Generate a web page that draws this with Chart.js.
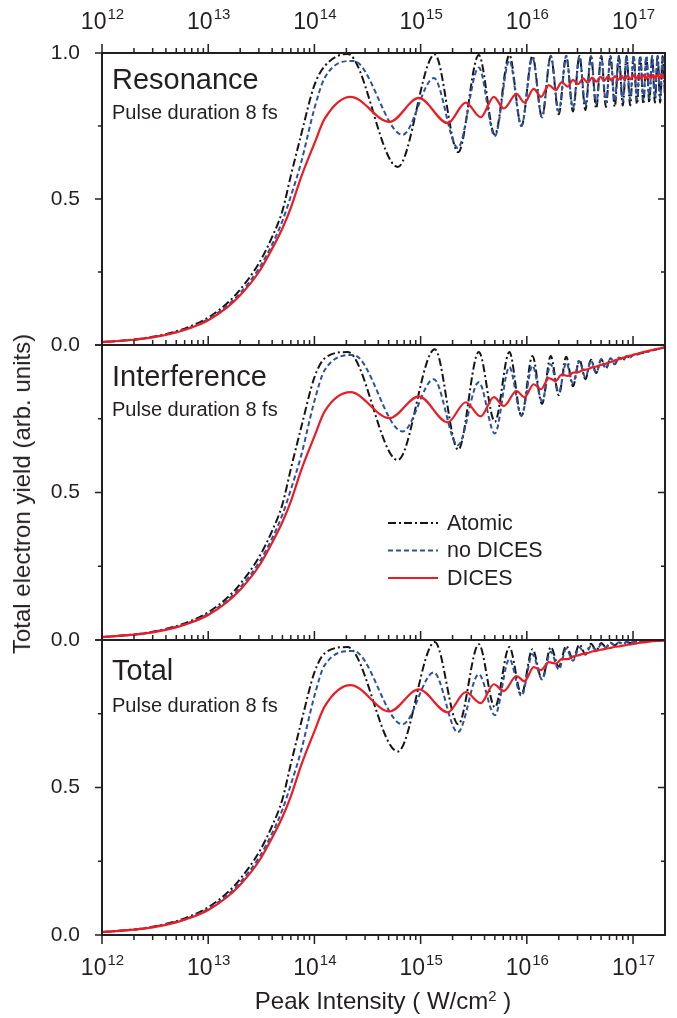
<!DOCTYPE html>
<html>
<head>
<meta charset="utf-8">
<script src="https://cdn.jsdelivr.net/npm/chart.js@4.4.0/dist/chart.umd.min.js"></script>
<style>
  html, body { margin: 0; padding: 0; background: #fff; }
  #fig { position: relative; width: 677px; height: 1018px; overflow: hidden;
         font-family: 'Liberation Sans', Arial, sans-serif; color: #231f20; }
  #fig canvas { position: absolute; left: 0; top: 0; }
  .lbl { position: absolute; white-space: nowrap; line-height: 1; }
  .name { font-size: 29px; }
  .pulse { font-size: 20px; }
  #ytitle { position: absolute; left: 22px; top: 494px; font-size: 24px; line-height: 1;
            white-space: nowrap; transform: translate(-50%, -50%) rotate(-90deg); }
  #xtitle { position: absolute; left: 383px; top: 989px; font-size: 24px; line-height: 1;
            white-space: nowrap; transform: translateX(-50%); }
  sup { font-size: 0.62em; vertical-align: 0.55em; line-height: 0; }
</style>
</head>
<body>
<div id="fig">
  <canvas id="panelRes" width="677" height="1018"></canvas>
  <canvas id="panelInt" width="677" height="1018"></canvas>
  <canvas id="panelTot" width="677" height="1018"></canvas>

  <div class="lbl name" style="left:112px; top:65px">Resonance</div>
  <div class="lbl pulse" style="left:112px; top:102px">Pulse duration 8 fs</div>
  <div class="lbl name" style="left:112px; top:362px">Interference</div>
  <div class="lbl pulse" style="left:112px; top:399px">Pulse duration 8 fs</div>
  <div class="lbl name" style="left:112px; top:656px">Total</div>
  <div class="lbl pulse" style="left:112px; top:695px">Pulse duration 8 fs</div>

  <div id="ytitle">Total electron yield (arb. units)</div>
  <div id="xtitle">Peak Intensity ( W/cm<sup>2</sup> )</div>
</div>

<script>
// intensity axis (W/cm^2) and yields, low-intensity rise is the same in all panels
const riseI = [1e12, 2e12, 3e12, 5e12, 7e12, 1e13, 1.5e13, 2e13, 3e13, 4e13, 5e13, 6e13, 7.5e13, 1e14, 1.25e14];
const riseAtomic  = [0.010, 0.019, 0.028, 0.047, 0.066, 0.094, 0.142, 0.190, 0.280, 0.370, 0.460, 0.580, 0.720, 0.890, 0.955];
const riseNoDices = [0.010, 0.018, 0.027, 0.045, 0.062, 0.089, 0.134, 0.178, 0.262, 0.345, 0.425, 0.510, 0.625, 0.810, 0.915];
const riseDices   = [0.010, 0.018, 0.026, 0.043, 0.060, 0.085, 0.128, 0.170, 0.250, 0.330, 0.400, 0.470, 0.575, 0.690, 0.775];

// maxima / minima of the Rabi-like oscillations
const atomicI = [2.05e14, 6.1e14, 1.36e15, 2.26e15, 3.53e15, 5.0e15, 6.85e15, 8.9e15, 1.13e16, 1.39e16,
  1.68e16, 2.0e16, 2.35e16, 2.72e16, 3.13e16, 3.56e16, 4.02e16, 4.5e16, 5.02e16, 5.56e16,
  6.13e16, 6.73e16, 7.35e16, 8.01e16, 8.69e16, 9.4e16, 1.013e17, 1.09e17, 1.169e17, 1.251e17,
  1.336e17, 1.423e17, 1.514e17, 1.607e17, 1.703e17, 1.801e17, 1.903e17, 2.007e17];
const noDicesI = [2.33e14, 6.76e14, 1.33e15, 2.24e15, 3.53e15, 5.0e15, 6.85e15, 8.9e15, 1.13e16, 1.39e16,
  1.68e16, 2.0e16, 2.35e16, 2.72e16, 3.13e16, 3.56e16, 4.02e16, 4.5e16, 5.02e16, 5.56e16,
  6.13e16, 6.73e16, 7.35e16, 8.01e16, 8.69e16, 9.4e16, 1.013e17, 1.09e17, 1.169e17, 1.251e17,
  1.336e17, 1.423e17, 1.514e17, 1.607e17, 1.703e17, 1.801e17, 1.903e17, 2.007e17];
const dicesI = [2.19e14, 5.1e14, 9.6e14, 1.8e15, 2.66e15, 3.68e15, 4.89e15, 6.07e15, 8.0e15, 9.5e15,
  1.16e16, 1.36e16, 1.61e16, 1.87e16, 2.13e16, 2.42e16, 2.72e16, 3.05e16, 3.39e16, 3.75e16,
  4.12e16, 4.52e16, 4.93e16, 5.36e16, 5.81e16, 6.28e16, 6.76e16, 7.27e16, 7.79e16, 8.33e16,
  8.88e16, 9.46e16, 1.005e17, 1.066e17, 1.129e17, 1.194e17, 1.261e17, 1.329e17, 1.399e17, 1.471e17,
  1.545e17, 1.62e17, 1.698e17, 1.777e17, 1.858e17, 1.941e17, 2.0e17];

// Resonance
const resAtomic = [0.997, 0.61, 0.995, 0.66, 0.993, 0.72, 0.993, 0.75, 0.99, 0.78, 0.99, 0.79, 0.99, 0.80,
  0.99, 0.805, 0.99, 0.81, 0.99, 0.815, 0.99, 0.815, 0.99, 0.82, 0.99, 0.82, 0.99, 0.825, 0.99, 0.825,
  0.99, 0.83, 0.99, 0.83, 0.99, 0.83, 0.99, 0.835];
const resNoDices = [0.973, 0.72, 0.914, 0.675, 0.95, 0.715, 0.975, 0.75, 0.985, 0.78, 0.99, 0.80, 0.99, 0.81,
  0.99, 0.82, 0.99, 0.825, 0.99, 0.83, 0.99, 0.835, 0.99, 0.835, 0.99, 0.84, 0.99, 0.84, 0.99, 0.84,
  0.99, 0.845, 0.99, 0.845, 0.99, 0.845, 0.99, 0.85];
const resDices = [0.85, 0.764, 0.846, 0.76, 0.83, 0.78, 0.85, 0.81, 0.86, 0.83, 0.877, 0.85, 0.89, 0.873,
  0.90, 0.885, 0.908, 0.893, 0.913, 0.898, 0.916, 0.902, 0.918, 0.905, 0.92, 0.906, 0.921, 0.908,
  0.922, 0.909, 0.923, 0.91, 0.924, 0.911, 0.924, 0.912, 0.925, 0.912, 0.925, 0.913, 0.925, 0.913,
  0.926, 0.914, 0.926, 0.914, 0.92];

// Interference
const intAtomic = [0.976, 0.61, 0.986, 0.645, 0.976, 0.74, 0.976, 0.76, 0.963, 0.80, 0.963, 0.83, 0.96, 0.86,
  0.95, 0.884, 0.95, 0.905, 0.952, 0.92, 0.955, 0.935, 0.958, 0.948, 0.962, 0.958, 0.967, 0.968, 0.972, 0.974,
  0.977, 0.979, 0.982, 0.984, 0.986, 0.988, 0.99, 0.992];
const intNoDices = [0.966, 0.707, 0.884, 0.66, 0.874, 0.70, 0.925, 0.76, 0.93, 0.81, 0.935, 0.84, 0.94, 0.87,
  0.945, 0.89, 0.948, 0.905, 0.952, 0.92, 0.955, 0.935, 0.958, 0.948, 0.962, 0.958, 0.967, 0.968, 0.972, 0.974,
  0.977, 0.979, 0.982, 0.984, 0.986, 0.988, 0.99, 0.992];
const intDices = [0.84, 0.752, 0.826, 0.738, 0.806, 0.758, 0.823, 0.793, 0.844, 0.823, 0.867, 0.85, 0.888, 0.878,
  0.90, 0.895, 0.906, 0.908, 0.915, 0.918, 0.924, 0.927, 0.932, 0.935, 0.94, 0.943, 0.948, 0.951, 0.955, 0.958,
  0.962, 0.964, 0.967, 0.969, 0.972, 0.974, 0.977, 0.978, 0.98, 0.982, 0.984, 0.985, 0.987, 0.988, 0.99, 0.991, 0.992];

// Total
const totAtomic = [0.976, 0.622, 0.993, 0.714, 0.986, 0.772, 0.976, 0.816, 0.969, 0.867, 0.976, 0.91, 0.98, 0.935,
  0.985, 0.952, 0.987, 0.965, 0.99, 0.975, 0.991, 0.982, 0.992, 0.987, 0.993, 0.99, 0.994, 0.993, 0.995, 0.995,
  0.996, 0.996, 0.997, 0.997, 0.998, 0.998, 0.999, 0.999];
const totNoDices = [0.963, 0.714, 0.89, 0.687, 0.884, 0.745, 0.935, 0.81, 0.952, 0.867, 0.96, 0.90, 0.97, 0.93,
  0.975, 0.95, 0.98, 0.965, 0.985, 0.975, 0.991, 0.982, 0.992, 0.987, 0.993, 0.99, 0.994, 0.993, 0.995, 0.995,
  0.996, 0.996, 0.997, 0.997, 0.998, 0.998, 0.999, 0.999];
const totDices = [0.847, 0.758, 0.833, 0.755, 0.823, 0.786, 0.85, 0.827, 0.878, 0.86, 0.908, 0.898, 0.925, 0.92,
  0.935, 0.935, 0.944, 0.948, 0.953, 0.956, 0.961, 0.963, 0.967, 0.969, 0.972, 0.974, 0.977, 0.978, 0.98, 0.982,
  0.984, 0.985, 0.987, 0.988, 0.99, 0.991, 0.992, 0.993, 0.994, 0.995, 0.996, 0.996, 0.997, 0.997, 0.998, 0.998, 0.999];

// axis labels
const decadeExp = [12, 13, 14, 15, 16, 17];
const yLabelValues = [0, 0.5, 1];
const yLabelText = ['0.0', '0.5', '1.0'];
const seriesNames = ['Atomic', 'no DICES', 'DICES'];

const ink = '#231f20';
const font = '"Liberation Sans", Arial, sans-serif';

function pts(xs, ys) {
  return xs.map((x, i) => ({ x: x, y: ys[i] }));
}

function makeSets(atomic, noDices, dices) {
  const base = { borderWidth: 2, pointRadius: 0, fill: false, cubicInterpolationMode: 'monotone' };
  return [
    Object.assign({}, base, { label: seriesNames[0], order: 2, borderColor: '#161616', borderDash: [8, 3, 2, 3],
      data: pts(riseI, riseAtomic).concat(pts(atomicI, atomic)) }),
    Object.assign({}, base, { label: seriesNames[1], order: 1, borderColor: '#2e52a2', borderDash: [5, 3],
      data: pts(riseI, riseNoDices).concat(pts(noDicesI, noDices)) }),
    Object.assign({}, base, { label: seriesNames[2], order: 0, borderColor: '#ec1c24', borderWidth: 2.2,
      data: pts(riseI, riseDices).concat(pts(dicesI, dices)) })
  ];
}

function isDecade(v) {
  const m = v / Math.pow(10, Math.floor(Math.log10(v) + 1e-9));
  return Math.abs(m - 1) < 1e-6;
}

function drawDecades(ctx, x, baseline) {
  ctx.fillStyle = ink;
  ctx.textAlign = 'left';
  ctx.textBaseline = 'alphabetic';
  decadeExp.forEach(e => {
    const px = x.getPixelForValue(Math.pow(10, e));
    ctx.font = '23px ' + font;
    const w1 = ctx.measureText('10').width;
    ctx.font = '15px ' + font;
    const w2 = ctx.measureText(String(e)).width;
    const x0 = px - (w1 + w2) / 2;
    ctx.font = '23px ' + font;
    ctx.fillText('10', x0, baseline);
    ctx.font = '15px ' + font;
    ctx.fillText(String(e), x0 + w1 + 1, baseline - 10);
  });
}

// frame, tick marks on all sides, decade labels and the legend
const panelFrame = {
  id: 'panelFrame',
  afterDraw(chart, args, opts) {
    const { ctx, chartArea: a } = chart;
    const x = chart.scales.x, y = chart.scales.y;
    ctx.save();
    ctx.strokeStyle = ink;
    ctx.lineWidth = 2;
    ctx.strokeRect(a.left, a.top, a.right - a.left, a.bottom - a.top);

    ctx.lineWidth = 1.5;
    ctx.beginPath();
    x.ticks.forEach(t => {
      const px = x.getPixelForValue(t.value);
      const len = isDecade(t.value) ? 9 : 5;
      ctx.moveTo(px, a.top);
      ctx.lineTo(px, a.top - len);
      if (opts.bottomTicks) {
        ctx.moveTo(px, a.bottom);
        ctx.lineTo(px, a.bottom + len);
      }
    });
    y.ticks.forEach(t => {
      const py = y.getPixelForValue(t.value);
      const len = t.value % 0.5 === 0 ? 7 : 4;
      ctx.moveTo(a.left - len, py);
      ctx.lineTo(a.left, py);
      ctx.moveTo(a.right, py);
      ctx.lineTo(a.right - len, py);
    });
    ctx.stroke();

    if (opts.topLabels) drawDecades(ctx, x, 29);
    if (opts.bottomLabels) drawDecades(ctx, x, a.bottom + 40);

    if (opts.legend) {
      const lg = opts.legend;
      chart.data.datasets.forEach((ds, i) => {
        const ly = lg.y + i * lg.gap;
        ctx.beginPath();
        ctx.strokeStyle = ds.borderColor;
        ctx.lineWidth = ds.borderWidth;
        ctx.setLineDash(ds.borderDash || []);
        ctx.moveTo(lg.x, ly);
        ctx.lineTo(lg.x + lg.len, ly);
        ctx.stroke();
        ctx.setLineDash([]);
        ctx.fillStyle = ink;
        ctx.font = '21.5px ' + font;
        ctx.textBaseline = 'middle';
        ctx.fillText(ds.label, lg.x + lg.len + 9, ly + 1);
      });
    }
    ctx.restore();
  }
};

function makePanel(id, top, bottom, sets, showOne, opts) {
  return new Chart(document.getElementById(id), {
    type: 'line',
    data: { datasets: sets },
    options: {
      responsive: false,
      animation: false,
      events: [],
      layout: { padding: { left: 0, right: 12, top: top, bottom: 1018 - bottom } },
      scales: {
        x: {
          type: 'logarithmic', min: 1e12, max: 2e17,
          ticks: { display: false },
          grid: { display: false },
          border: { display: false },
          afterBuildTicks: s => {
            s.ticks = s.ticks.filter(t => {
              const m = t.value / Math.pow(10, Math.floor(Math.log10(t.value) + 1e-9));
              return Math.abs(m - Math.round(m)) < 1e-6 && t.value < 1.99e17;
            });
          },
          afterFit: s => { s.height = 0; }
        },
        y: {
          min: 0, max: 1,
          ticks: {
            stepSize: 0.25, padding: 22, color: ink,
            font: { family: font, size: 21 },
            callback: v => {
              const i = yLabelValues.indexOf(v);
              if (i < 0 || (v === 1 && !showOne)) return '';
              return yLabelText[i];
            }
          },
          grid: { drawOnChartArea: false, drawTicks: false },
          border: { display: false },
          afterFit: s => { s.width = 102; }
        }
      },
      plugins: { legend: { display: false }, tooltip: { enabled: false }, panelFrame: opts }
    },
    plugins: [panelFrame]
  });
}

makePanel('panelRes', 53, 345, makeSets(resAtomic, resNoDices, resDices), true, { topLabels: true });
makePanel('panelInt', 345, 640, makeSets(intAtomic, intNoDices, intDices), false,
  { legend: { x: 388, y: 523, gap: 27.5, len: 50 } });
makePanel('panelTot', 640, 935, makeSets(totAtomic, totNoDices, totDices), false,
  { bottomTicks: true, bottomLabels: true });
</script>
</body>
</html>
